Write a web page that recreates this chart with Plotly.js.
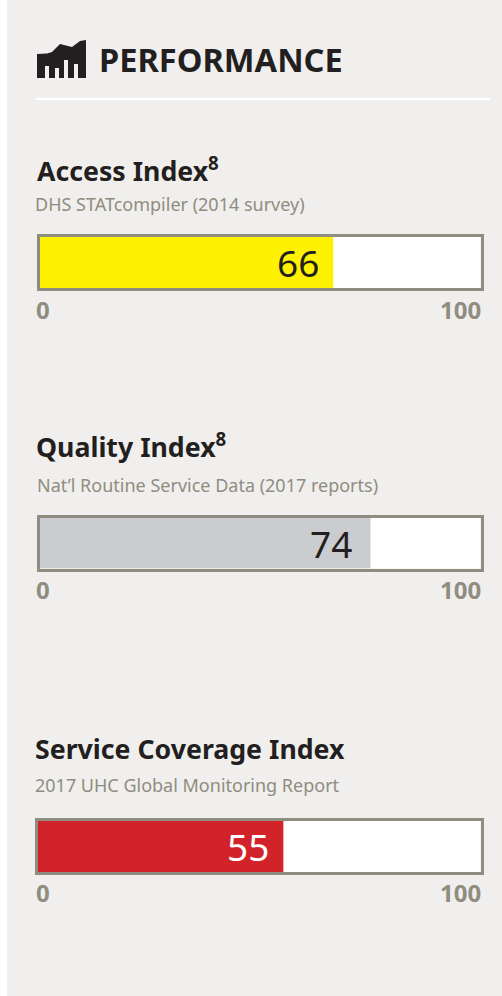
<!DOCTYPE html>
<html><head><meta charset="utf-8">
<script src="https://cdn.plot.ly/plotly-3.0.1.min.js"></script>
<style>html,body{margin:0;padding:0;background:#fff;overflow:hidden}</style>
</head><body><div id="chart" style="width:502px;height:996px"></div>
<script>
// data
const heading = "PERFORMANCE";
const indexNames = ["Access Index<sup>8</sup>", "Quality Index<sup>8</sup>", "Service Coverage Index"];
const sources = ["DHS STATcompiler (2014 survey)", "Nat\u2019l Routine Service Data (2017 reports)", "2017 UHC Global Monitoring Report"];
const values = [66, 74, 55];
const scaleTicks = [0, 100];

// styling and layout (pixels in the 502x996 page)
const W = 502, H = 996;
const FONT = "'Noto Sans', sans-serif";
const INK = "#231f20", GREY = "#8f8d7f";
const barColors = ["#fff200", "#cbcccf", "#d2232a"];
const valueColors = [INK, INK, "#ffffff"];
const frames = [
  {x0: 39.5, x1: 480.5, y0: 237, y1: 288, end: 99.1, shift: -13, titleX: 36, titleY: 169, srcX: 33.5, srcY: 204, tickY: 309.5},
  {x0: 39.5, x1: 480.5, y0: 517.5, y1: 568.5, end: 98.6, shift: -17, titleX: 34.5, titleY: 445, srcX: 35.5, srcY: 485, tickY: 589.5},
  {x0: 37.5, x1: 480.5, y0: 821, y1: 872, end: 99.1, shift: -13, titleX: 34, titleY: 748, srcX: 34, srcY: 785, tickY: 892.5}
];
const px = x => x / W, py = y => 1 - y / H;

const traces = [], annotations = [], layout = {
  width: W, height: H, margin: {l: 0, r: 0, t: 0, b: 0, pad: 0},
  paper_bgcolor: "#f0efed", plot_bgcolor: "#ffffff", showlegend: false,
  font: {family: FONT, color: INK}
};
const label = (text, x, y, anchor, size, color, weight) => ({
  text, xref: "paper", yref: "paper", x: px(x), y: py(y), xanchor: anchor, yanchor: "middle",
  showarrow: false, borderpad: 0, font: {family: FONT, size, color, weight}
});

values.forEach((v, i) => {
  const f = frames[i], s = i ? String(i + 1) : "";
  traces.push({
    type: "bar", orientation: "h", x: [v], y: [0], width: [1], base: 0,
    xaxis: "x" + s, yaxis: "y" + s, marker: {color: barColors[i], line: {width: 0}}, hoverinfo: "skip"
  });
  const line = {showline: true, mirror: true, linecolor: GREY, linewidth: 3, showgrid: false, zeroline: false, showticklabels: false, ticks: "", fixedrange: true};
  layout["xaxis" + s] = {...line, domain: [px(f.x0), px(f.x1)], range: [0, f.end], anchor: "y" + s};
  layout["yaxis" + s] = {...line, domain: [py(f.y1), py(f.y0)], range: [-0.5, 0.5], anchor: "x" + s};
  annotations.push(label(indexNames[i], f.titleX, f.titleY, "left", 26.7, INK, 700));
  annotations.push(label(sources[i], f.srcX, f.srcY, "left", 18, GREY, 400));
  annotations.push(label(String(scaleTicks[0]), 35, f.tickY, "left", 24, GREY, 700));
  annotations.push(label(String(scaleTicks[1]), 481.5, f.tickY, "right", 24, GREY, 700));
  annotations.push({
    text: String(v), xref: "x" + s, yref: "y" + s, x: v, y: 0, xanchor: "right", yanchor: "middle", xshift: f.shift,
    showarrow: false, borderpad: 0, font: {family: FONT, size: 37, color: valueColors[i], weight: 400}
  });
});
annotations.push(label(heading, 97.5, 60, "left", 32.6, INK, 700));
layout.annotations = annotations;

// page strip, header rule and factory icon
const pt = (x, y) => px(x) + "," + py(y);
const iconOutline = [[37,78],[37,54],[47,53.5],[52,52],[60,44],[72,47],[80,41],[86,40],[86,78],[78,78],[78,64],[74,64],[74,78],[68,78],[68,60],[64,60],[64,78],[59,78],[59,68],[55,68],[55,78],[49,78],[49,66],[45,66],[45,78]];
layout.shapes = [
  {type: "rect", xref: "paper", yref: "paper", x0: 0, x1: px(7), y0: 0, y1: 1, line: {width: 0}, fillcolor: "#ffffff"},
  {type: "rect", xref: "paper", yref: "paper", x0: px(36), x1: px(490), y0: py(100), y1: py(98), line: {width: 0}, fillcolor: "#ffffff"},
  {type: "path", xref: "paper", yref: "paper", line: {width: 0}, fillcolor: INK,
   path: "M" + iconOutline.map(p => pt(p[0], p[1])).join("L") + "Z"}
];
Plotly.newPlot("chart", traces, layout, {displayModeBar: false, staticPlot: true});
</script></body></html>
